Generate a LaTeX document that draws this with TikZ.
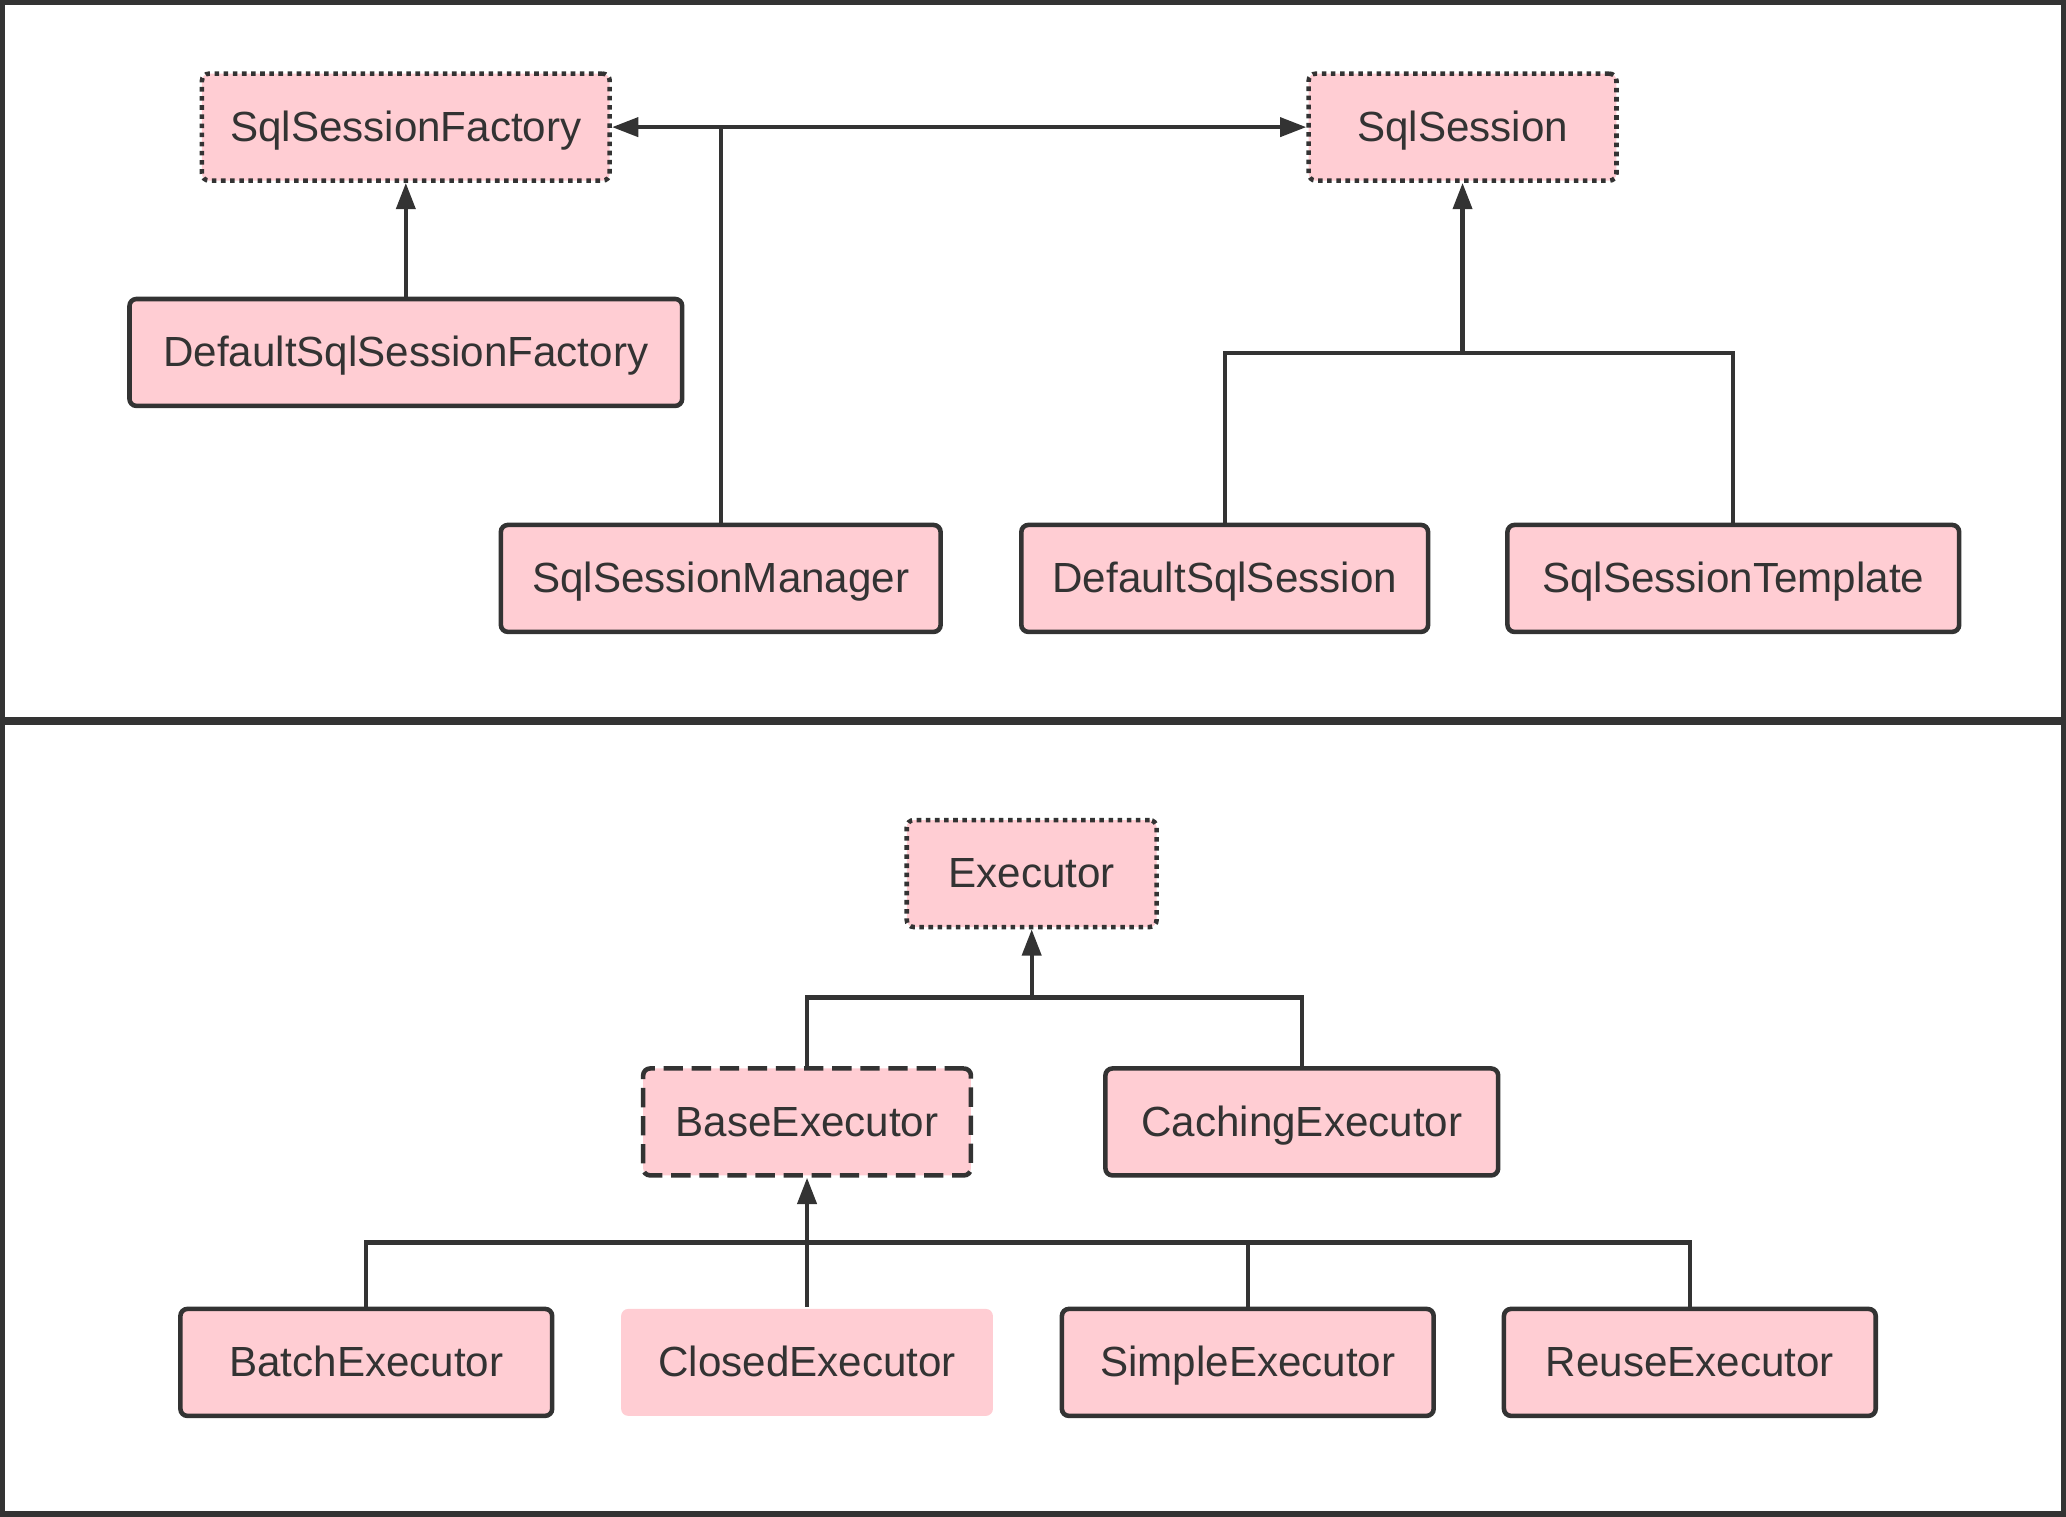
\documentclass[tikz,border=0pt]{standalone}
\usepackage{fontspec}
\setmainfont{Liberation Sans}
\usepackage{tikz}
\usetikzlibrary{arrows.meta}
\usepackage{xcolor}
\definecolor{boxpink}{RGB}{255,205,211}
\definecolor{inkgray}{RGB}{51,51,51}

\begin{document}
\begin{tikzpicture}[x=0.013176cm,y=-0.013176cm,
every node/.style={font=\fontsize{12}{14}\selectfont,text=inkgray},
cls/.style={rectangle,rounded corners=2pt,fill=boxpink,draw=inkgray,line width=1.3pt,minimum height=1.07cm,inner sep=0pt,text height=9.7pt,text depth=1.5pt},
iface/.style={cls,dash pattern=on 1.3pt off 1.3pt},
abstr/.style={cls,dash pattern=on 5.5pt off 2.5pt},
bare/.style={cls,draw=none},
link/.style={draw=inkgray,line width=1.2pt},
inherit/.style={link,-{Triangle[length=7.5pt,width=5.4pt]}}]
\useasboundingbox (0,0) rectangle (1568,1151);
%\tikzstyle{every node}=[cls]

% frames
\draw[inkgray,line width=1.6pt] (2,2) rectangle (1566,1149);
\draw[inkgray,line width=2.3pt] (0,547) -- (1568,547);

% session part
\node[iface,minimum width=4.08cm] (ssf) at (308,96.5) {SqlSessionFactory};
\node[iface,minimum width=3.08cm] (ss) at (1110,96.5) {SqlSession};
\node[cls,minimum width=5.53cm] (dssf) at (308,267.5) {DefaultSqlSessionFactory};
\node[cls,minimum width=4.40cm] (ssm) at (547,439) {SqlSessionManager};
\node[cls,minimum width=4.07cm] (dss) at (929.5,439) {DefaultSqlSession};
\node[cls,minimum width=4.52cm] (sst) at (1315.5,439) {SqlSessionTemplate};
\coordinate (sbus) at (1110,268);

\draw[inherit] (dssf) -- (ssf);
\draw[inherit] (ssm.north) |- (ssf.east);
\draw[inherit] (ssm.north) |- (ss.west);
\draw[link] (dss.north) |- (sbus) -| (sst.north);
\draw[inherit] (sbus) -- (ss.south);

% executor part
\node[iface,minimum width=2.50cm] (ex) at (783,663) {Executor};
\node[abstr,minimum width=3.28cm] (be) at (612.5,851.5) {BaseExecutor};
\node[cls,minimum width=3.93cm] (ce) at (988,851.5) {CachingExecutor};
\node[cls,minimum width=3.72cm] (bat) at (278,1034) {BatchExecutor};
\node[bare,minimum width=3.72cm] (clo) at (612.5,1034) {ClosedExecutor};
\node[cls,minimum width=3.72cm] (sim) at (947,1034) {SimpleExecutor};
\node[cls,minimum width=3.72cm] (reu) at (1282.5,1034) {ReuseExecutor};
\coordinate (ebus) at (783,757);
\coordinate (bbus) at (612.5,943);

\draw[link] (be.north) |- (ebus) -| (ce.north);
\draw[inherit] (ebus) -- (ex.south);
\draw[link] (bat.north) |- (bbus) -| (reu.north);
\draw[link] (sim.north) |- (bbus);
\draw[inherit] (clo.north) -- (be.south);
\end{tikzpicture}
\end{document}
